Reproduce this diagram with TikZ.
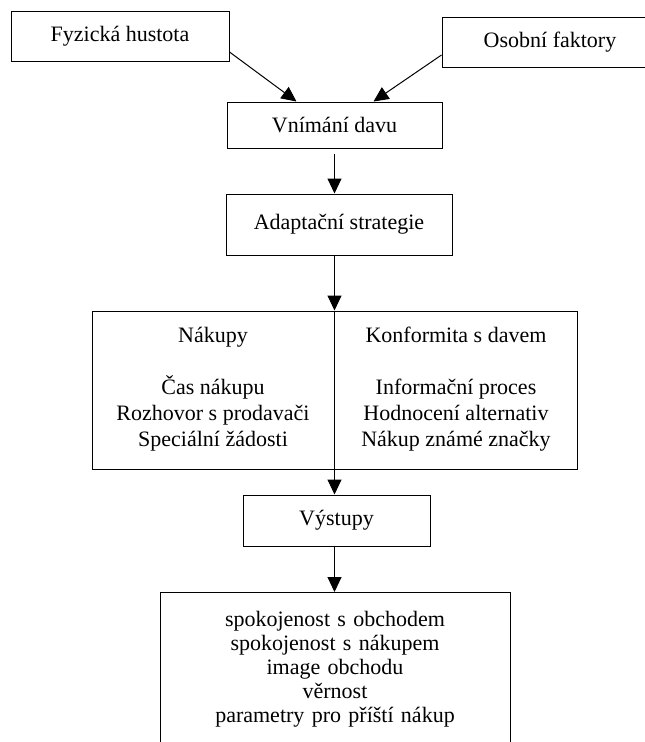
\documentclass[tikz,border=0pt]{standalone}
\usepackage{fontspec}
\setmainfont{Liberation Serif}
\usepackage{tikz}
\usetikzlibrary{arrows.meta}

\begin{document}
\begin{tikzpicture}[x=1pt, y=-1pt,
    box/.style={draw, line width=1pt, inner sep=0pt, font=\fontsize{22}{26}\selectfont},
    txt/.style={inner sep=0pt, align=center, font=\fontsize{22}{26}\selectfont},
    arr/.style={line width=1pt, -{Triangle[length=15pt, width=14pt]}}]
    \useasboundingbox (0,0) rectangle (645,742);
    % inputs
    \node[box, minimum width=218, minimum height=50] (fyz) at (120,36) {Fyzická hustota};
    \node[box, minimum width=216, minimum height=50] (osob) at (550,42) {Osobní faktory};
    % perception and strategy
    \node[box, minimum width=215, minimum height=46] (vnim) at (334.5,125) {Vnímání davu};
    \node[box, minimum width=226, minimum height=61] (adapt) at (339,224.5) {Adaptační strategie};
    % two columns
    \node[box, minimum width=485, minimum height=158] (strat) at (334.5,390) {};
    \node[txt] (nakupy) at (213,389) {Nákupy\\[26pt] Čas nákupu\\ Rozhovor s prodavači\\ Speciální žádosti};
    \node[txt] (konform) at (456,389) {Konformita s davem\\[26pt] Informační proces\\ Hodnocení alternativ\\ Nákup známé značky};
    % outputs
    \node[box, minimum width=187, minimum height=51] (vystupy) at (336.5,520.5) {Výstupy};
    \node[box, anchor=north, text width=350pt, inner ysep=19pt, align=center,
          font=\fontsize{22}{24}\selectfont] (effects) at (335,592)
        {spokojenost s obchodem\\ spokojenost s nákupem\\ image obchodu\\ věrnost\\ parametry pro příští nákup};
    % arrows
    \draw[arr] ([yshift=-16pt]fyz.east) -- ([xshift=-38pt]vnim.north);
    \draw[arr] ([yshift=-13pt]osob.west) -- ([xshift=39pt]vnim.north);
    \draw[arr, shorten <=5pt] (vnim.south) -- (vnim.south |- adapt.north);
    \draw[arr] (adapt.south -| strat.north) -- (strat.north);
    \draw[arr] (strat.north) -- (strat.north |- vystupy.north);
    \draw[arr] (vystupy.south -| strat.north) -- (strat.north |- effects.north);
\end{tikzpicture}
\end{document}
